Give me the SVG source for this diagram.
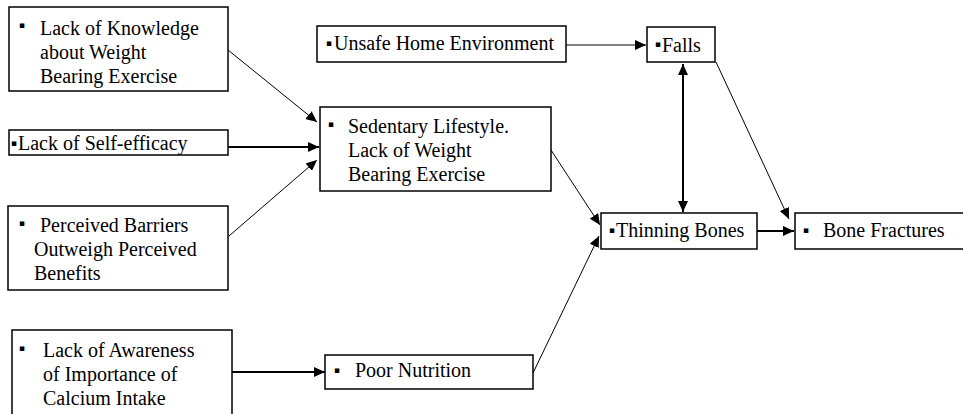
<svg xmlns="http://www.w3.org/2000/svg" width="963" height="414" viewBox="0 0 963 414">
<style>
.box{fill:#fff;stroke:#000;stroke-width:1.5}
.t{font-family:"Liberation Serif","Times New Roman",serif;font-size:20px;fill:#000}
.b{font-family:"DejaVu Sans",sans-serif;font-size:9px;fill:#000}
.c{stroke:#000;stroke-width:1;fill:none}
.c2{stroke:#000;stroke-width:2;fill:none}
</style>
<defs>
<marker id="ah" markerUnits="userSpaceOnUse" markerWidth="12" markerHeight="10" refX="11" refY="5" orient="auto-start-reverse">
<path d="M0,0 L11,5 L0,10 z" fill="#000"/>
</marker>
</defs>
<rect width="963" height="414" fill="#fff"/>
<g id="connectors">
<line class="c" x1="228" y1="50" x2="317" y2="122" marker-end="url(#ah)"/>
<line class="c2" x1="228" y1="147" x2="319" y2="147" marker-end="url(#ah)"/>
<line class="c" x1="229" y1="236" x2="317" y2="160" marker-end="url(#ah)"/>
<line class="c" x1="566" y1="45" x2="646" y2="45" marker-end="url(#ah)"/>
<line class="c" x1="551" y1="150" x2="600" y2="225" marker-end="url(#ah)"/>
<line class="c" x1="533" y1="373" x2="599" y2="236" marker-end="url(#ah)"/>
<line class="c2" x1="683" y1="64" x2="683" y2="212" marker-start="url(#ah)" marker-end="url(#ah)"/>
<line class="c" x1="716" y1="62" x2="789" y2="219" marker-end="url(#ah)"/>
<line class="c2" x1="757" y1="231" x2="794" y2="231" marker-end="url(#ah)"/>
<line class="c2" x1="232" y1="372" x2="325" y2="372" marker-end="url(#ah)"/>
</g>
<g id="n-knowledge">
<rect class="box" x="9" y="7" width="219" height="84"/>
<text class="b" x="19" y="28">▪</text>
<text class="t" x="40" y="35">Lack of Knowledge</text>
<text class="t" x="40" y="59">about Weight</text>
<text class="t" x="40" y="83">Bearing Exercise</text>
</g>
<g id="n-selfefficacy">
<rect class="box" x="9" y="130" width="219" height="25"/>
<text class="b" x="11" y="146">▪</text>
<text class="t" x="18" y="150">Lack of Self-efficacy</text>
</g>
<g id="n-barriers">
<rect class="box" x="8" y="206" width="220" height="84"/>
<text class="b" x="19" y="226">▪</text>
<text class="t" x="40" y="232">Perceived Barriers</text>
<text class="t" x="34" y="256">Outweigh Perceived</text>
<text class="t" x="34" y="280">Benefits</text>
</g>
<g id="n-awareness">
<rect class="box" x="12" y="330" width="220" height="95"/>
<text class="b" x="19" y="351">▪</text>
<text class="t" x="43" y="357">Lack of Awareness</text>
<text class="t" x="43" y="381">of Importance of</text>
<text class="t" x="43" y="405">Calcium Intake</text>
</g>
<g id="n-sedentary">
<rect class="box" x="320" y="107" width="231" height="84"/>
<text class="b" x="328" y="127">▪</text>
<text class="t" x="348" y="133">Sedentary Lifestyle.</text>
<text class="t" x="348" y="157">Lack of Weight</text>
<text class="t" x="348" y="181">Bearing Exercise</text>
</g>
<g id="n-unsafe">
<rect class="box" x="317" y="26" width="249" height="36"/>
<text class="b" x="326" y="46">▪</text>
<text class="t" x="334" y="50">Unsafe Home Environment</text>
</g>
<g id="n-falls">
<rect class="box" x="647" y="27" width="68" height="35"/>
<text class="b" x="655" y="47">▪</text>
<text class="t" x="662" y="52">Falls</text>
</g>
<g id="n-nutrition">
<rect class="box" x="325" y="355" width="208" height="34"/>
<text class="b" x="334" y="373">▪</text>
<text class="t" x="355" y="377">Poor Nutrition</text>
</g>
<g id="n-thinning">
<rect class="box" x="601" y="213" width="156" height="36"/>
<text class="b" x="609" y="233">▪</text>
<text class="t" x="616" y="237">Thinning Bones</text>
</g>
<g id="n-fractures">
<rect class="box" x="795" y="213" width="175" height="36"/>
<text class="b" x="803" y="233">▪</text>
<text class="t" x="823" y="237">Bone Fractures</text>
</g>
</svg>
